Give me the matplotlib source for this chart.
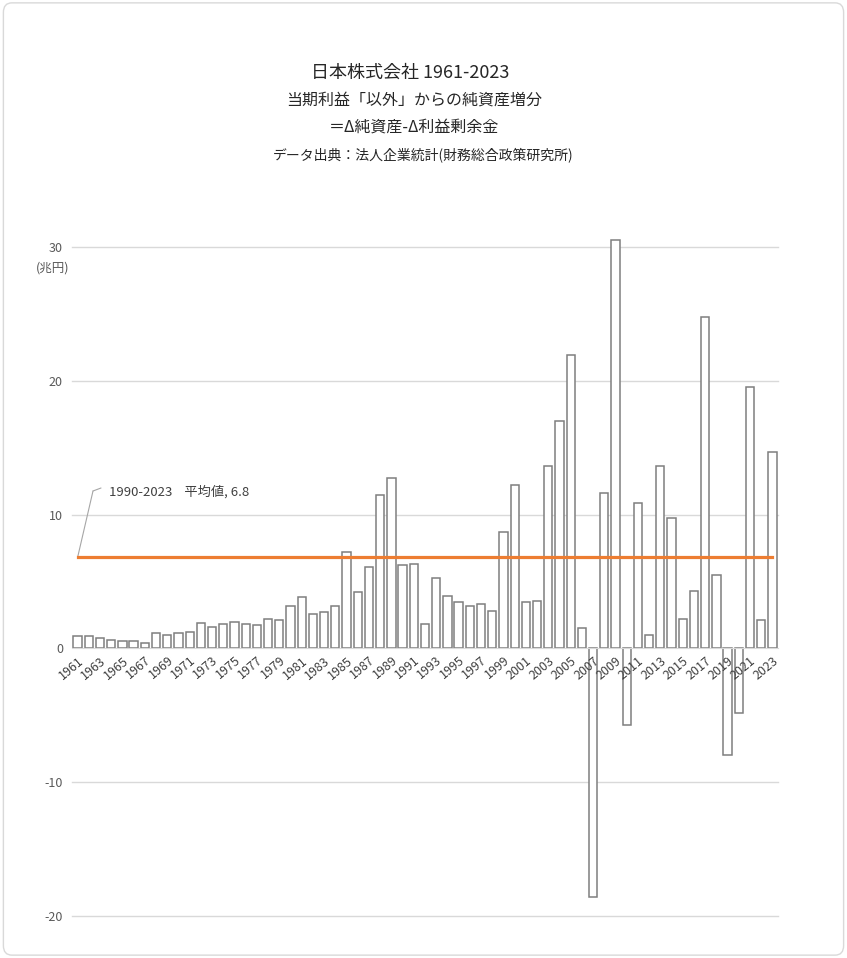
import numpy as np
import matplotlib.pyplot as plt
from matplotlib.patches import FancyBboxPatch

plt.rcParams['font.family'] = ['Noto Sans CJK JP', 'DejaVu Sans']

# Data (兆円)
years = list(range(1961, 2024))
values = [
    0.95, 0.9, 0.8, 0.65, 0.53, 0.58, 0.4, 1.17, 1.02, 1.15,
    1.22, 1.92, 1.62, 1.82, 2.0, 1.82, 1.75, 2.17, 2.12, 3.17,
    3.82, 2.55, 2.7, 3.15, 7.2, 4.2, 6.1, 11.45, 12.7, 6.25,
    6.3, 1.8, 5.27, 3.9, 3.45, 3.18, 3.33, 2.8, 8.7, 12.2,
    3.45, 3.55, 13.65, 17.0, 21.9, 1.52, -18.6, 11.6, 30.5, -5.7,
    10.9, 1.0, 13.6, 9.75, 2.2, 4.3, 24.8, 5.47, -7.95, -4.8,
    19.5, 2.12, 14.65,
]
avg_start = 1990
avg_end = 2023
yticks = [-20, -10, 0, 10, 20, 30]

x = np.arange(len(years))
sel = [v for y, v in zip(years, values) if avg_start <= y <= avg_end]
avg = round(float(np.mean(sel)), 1)

fig = plt.figure(figsize=(8.47, 9.58), dpi=100)
ax = fig.add_axes([72 / 847, 1 - 916 / 958, 706 / 847, (916 - 233.6) / 958])

# chart border
fig.patches.append(FancyBboxPatch((0.004, 0.003), 0.992, 0.994,
                                  boxstyle='round,pad=0,rounding_size=0.01',
                                  transform=fig.transFigure, fill=False,
                                  edgecolor='#d9d9d9', lw=1))

# gridlines behind, bars, then axis labels on top
for t in yticks:
    if t != 0:
        ax.axhline(t, color='#d9d9d9', lw=1, zorder=0, clip_on=False)
ax.bar(x, values, width=0.74, color='white', edgecolor='#7f7f7f', lw=1.1,
       zorder=1, clip_on=False)
ax.plot([x[0], x[-1]], [avg, avg], color='#ED7D31', lw=2.3, zorder=4)

ax.set_xlim(-0.5, len(years) - 0.5)
ax.set_ylim(-20, 31)
ax.set_yticks(yticks)
ax.set_yticklabels([str(t) for t in yticks])
for s in ['top', 'right', 'left']:
    ax.spines[s].set_visible(False)
ax.spines['bottom'].set_position(('data', 0))
ax.spines['bottom'].set_color('#d9d9d9')
ax.tick_params(axis='y', length=0, pad=6.5, labelsize=9, labelcolor='#595959')
ax.set_xticks(x[::2])
ax.set_xticklabels([str(y) for y in years[::2]], rotation=40, ha='right',
                   rotation_mode='anchor')
ax.tick_params(axis='x', length=0, pad=4, labelsize=9, labelcolor='#404040')

fig.text(53 / 847, 1 - 268 / 958, '(兆円)', ha='center', va='center',
         fontsize=9, color='#595959')

# average label with leader line
fig.text(109 / 847, 1 - 492 / 958, f'{avg_start}-{avg_end}    平均値, {avg}',
         ha='left', va='center', fontsize=9.5, color='#404040')
ax.annotate('', xy=(x[0], avg), xytext=(93 / 847, 1 - 491 / 958),
            textcoords='figure fraction',
            arrowprops=dict(arrowstyle='-', color='#a6a6a6', lw=0.8,
                            shrinkA=0, shrinkB=0))
ax.annotate('', xy=(93 / 847, 1 - 491 / 958), xycoords='figure fraction',
            xytext=(101 / 847, 1 - 488 / 958), textcoords='figure fraction',
            arrowprops=dict(arrowstyle='-', color='#a6a6a6', lw=0.8,
                            shrinkA=0, shrinkB=0))

titles = [
    ('日本株式会社 1961-2023', 73, 13, 410),
    ('当期利益「以外」からの純資産増分', 100, 11.5, 414),
    ('＝Δ純資産-Δ利益剰余金', 127, 11.5, 414),
    ('データ出典：法人企業統計(財務総合政策研究所)', 155, 10, 423),
]
for t, yy, fs, xx in titles:
    fig.text(xx / 847, 1 - yy / 958, t, ha='center', va='center',
             fontsize=fs, color='#262626')

fig.savefig('out.png', dpi=100, facecolor='white')
